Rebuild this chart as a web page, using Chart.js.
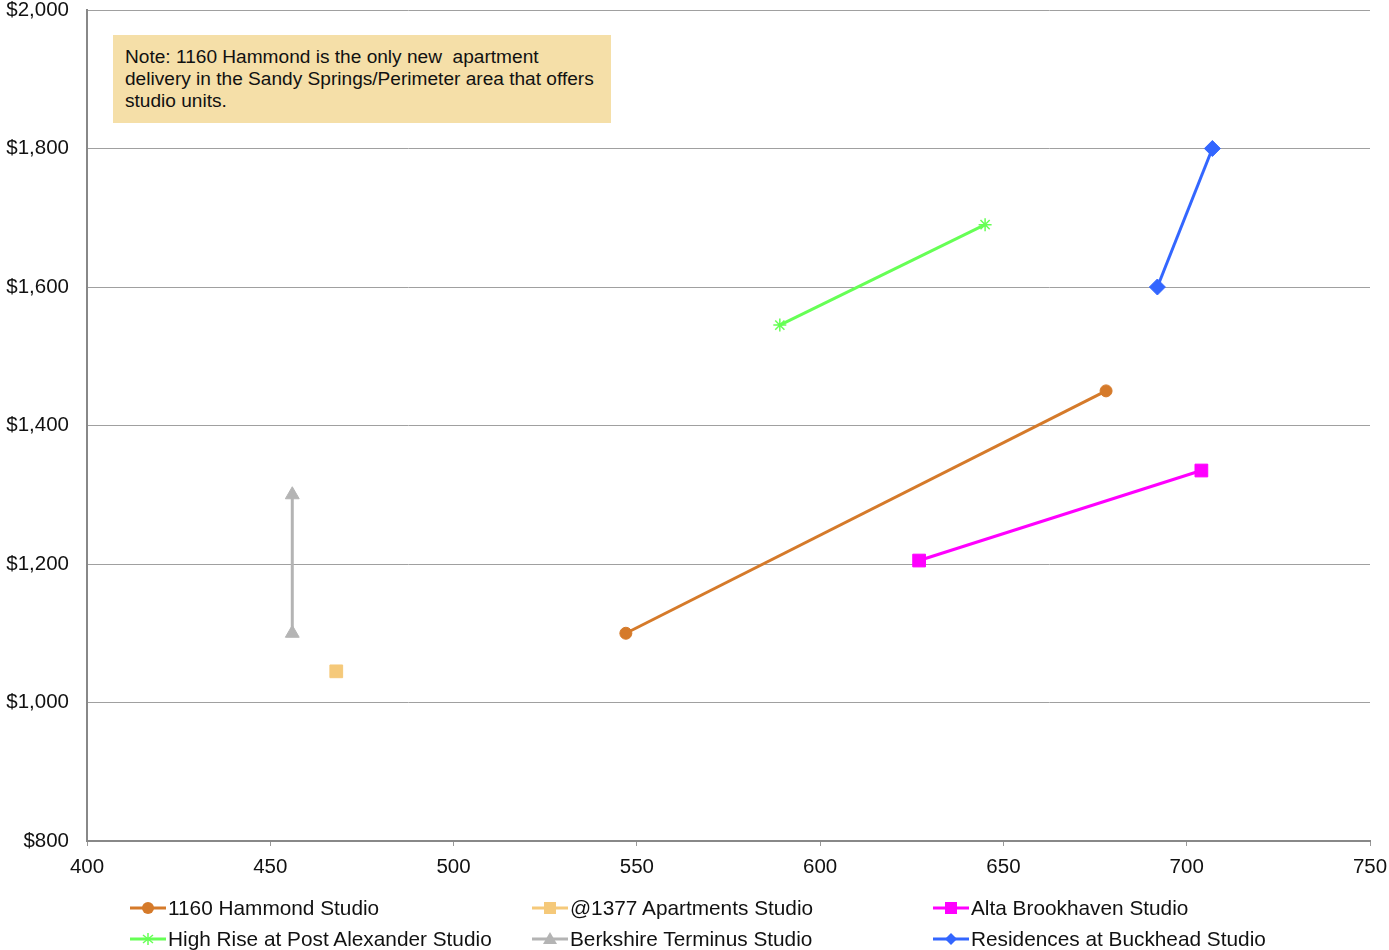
<!DOCTYPE html>
<html>
<head>
<meta charset="utf-8">
<script src="https://cdn.jsdelivr.net/npm/chart.js@4"></script>
<style>
  body { margin: 0; background: #fff; font-family: "Liberation Sans", Arial, sans-serif; }
  #wrap { position: relative; width: 1389px; height: 950px; }
  #note {
    position: absolute; left: 113px; top: 35px; width: 498px; height: 88px;
    box-sizing: border-box; padding: 11px 12px; background: #F5DFA8;
    font-size: 19.1px; line-height: 22px; color: #111; white-space: nowrap;
  }
  #legend { position: absolute; left: 0; top: 0; width: 1389px; height: 950px; pointer-events: none; }
  .item { position: absolute; display: flex; align-items: center; font-size: 20.8px; color: #111; white-space: nowrap; }
  .item svg { margin-right: 2px; }
</style>
</head>
<body>
<div id="wrap">
  <canvas id="c" width="1389" height="950"></canvas>
  <div id="note">Note: 1160 Hammond is the only new&nbsp; apartment<br>delivery in the Sandy Springs/Perimeter area that offers<br>studio units.</div>
  <div id="legend"></div>
</div>
<script>
// Studio rents: unit size (sq ft) vs monthly rent
const seriesNames = [
  "1160 Hammond Studio", "@1377 Apartments Studio", "Alta Brookhaven Studio",
  "High Rise at Post Alexander Studio", "Berkshire Terminus Studio", "Residences at Buckhead Studio",
];
const hammondSqft = [547, 678];
const hammondRent = [1100, 1450];
const apts1377Sqft = [468];
const apts1377Rent = [1045];
const altaSqft = [627, 704];
const altaRent = [1205, 1335];
const highRiseSqft = [589, 645];
const highRiseRent = [1545, 1690];
const berkshireSqft = [456, 456];
const berkshireRent = [1100, 1300];
const residencesSqft = [692, 707];
const residencesRent = [1600, 1800];

const xTicks = [400, 450, 500, 550, 600, 650, 700, 750];
const yTicks = [800, 1000, 1200, 1400, 1600, 1800, 2000];

const pts = (xs, ys) => xs.map((x, i) => ({ x, y: ys[i] }));

const styles = [
  { color: "#D57A2A", point: "circle", r: 6 },
  { color: "#F5C97A", point: "rect", r: 9 },
  { color: "#FF00FF", point: "rect", r: 9 },
  { color: "#66FF55", point: "star", r: 6.5 },
  { color: "#B4B4B4", point: "triangle", r: 8 },
  { color: "#3366FF", point: "rectRot", r: 8 },
];
const data = [
  pts(hammondSqft, hammondRent),
  pts(apts1377Sqft, apts1377Rent),
  pts(altaSqft, altaRent),
  pts(highRiseSqft, highRiseRent),
  pts(berkshireSqft, berkshireRent),
  pts(residencesSqft, residencesRent),
];

const datasets = seriesNames.map((name, i) => ({
  label: name,
  data: data[i],
  showLine: true,
  borderColor: styles[i].color,
  backgroundColor: styles[i].color,
  pointBorderColor: styles[i].color,
  pointBackgroundColor: styles[i].color,
  pointStyle: styles[i].point,
  pointRadius: styles[i].r,
  pointBorderWidth: styles[i].point === "star" ? 1.5 : 1,
  borderWidth: 3,
}));

const font = { family: "'Liberation Sans', Arial, sans-serif", size: 20.5 };

new Chart(document.getElementById("c"), {
  type: "scatter",
  data: { datasets },
  options: {
    responsive: false,
    animation: false,
    devicePixelRatio: 1,
    layout: { padding: { top: 10, right: 19, left: 0, bottom: 0 } },
    plugins: { legend: { display: false }, tooltip: { enabled: false } },
    scales: {
      x: {
        type: "linear", min: 400, max: 750,
        afterBuildTicks: (s) => { s.ticks = xTicks.map((v) => ({ value: v })); },
        afterFit: (s) => { s.height = 109; s.paddingLeft = 0; s.paddingRight = 0; },
        ticks: { color: "#111", font, padding: 9, maxRotation: 0 },
        grid: { drawOnChartArea: false, drawTicks: true, tickLength: 5, color: "#999", lineWidth: 1 },
        border: { color: "#888", width: 2 },
      },
      y: {
        type: "linear", min: 800, max: 2000,
        afterBuildTicks: (s) => { s.ticks = yTicks.map((v) => ({ value: v })); },
        afterFit: (s) => { s.width = 87; s.paddingTop = 0; s.paddingBottom = 0; },
        ticks: { color: "#111", font, padding: 18, callback: (v) => "$" + v.toLocaleString("en-US") },
        grid: { drawTicks: false, color: "#A0A0A0", lineWidth: 1 },
        border: { color: "#888", width: 2 },
      },
    },
  },
});

// legend laid out in three columns like the original
const legendPos = [[130, 907], [532, 907], [933, 907], [130, 938], [532, 938], [933, 938]];
function marker(s) {
  const c = s.color;
  let m = "";
  if (s.point === "circle") m = `<circle cx="18" cy="10" r="6" fill="${c}"/>`;
  if (s.point === "rect") m = `<rect x="12" y="4" width="12" height="12" fill="${c}"/>`;
  if (s.point === "triangle") m = `<polygon points="18,3 25,15 11,15" fill="${c}"/>`;
  if (s.point === "rectRot") m = `<polygon points="18,4 24,10 18,16 12,10" fill="${c}"/>`;
  if (s.point === "star") m = `<g stroke="${c}" stroke-width="1.5"><line x1="18" y1="4" x2="18" y2="16"/><line x1="13" y1="6" x2="23" y2="14"/><line x1="23" y1="6" x2="13" y2="14"/></g>`;
  return `<svg width="36" height="20"><line x1="0" y1="10" x2="36" y2="10" stroke="${c}" stroke-width="3"/>${m}</svg>`;
}
document.getElementById("legend").innerHTML = seriesNames.map((name, i) =>
  `<div class="item" style="left:${legendPos[i][0]}px;top:${legendPos[i][1] - 11}px">${marker(styles[i])}<span>${name}</span></div>`
).join("");
</script>
</body>
</html>
